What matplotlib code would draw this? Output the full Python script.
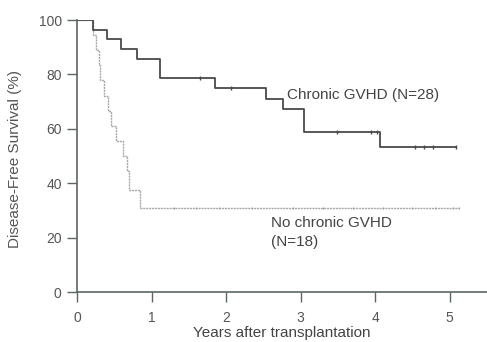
import matplotlib
matplotlib.use("Agg")
import matplotlib.pyplot as plt

# Chronic GVHD (N=28) step curve
cg_times = [0.0, 0.215, 0.40, 0.59, 0.81, 1.12, 1.85, 2.54, 2.77, 3.05, 4.07, 5.08]
cg_surv = [100, 96.4, 92.9, 89.3, 85.7, 78.6, 75.0, 71.0, 67.3, 59.0, 53.2, 53.2]
cg_cens_t = [1.65, 2.06, 3.49, 3.94, 4.03, 4.54, 4.65, 4.77, 5.08]
cg_cens_s = [78.6, 75.0, 59.0, 59.0, 59.0, 53.2, 53.2, 53.2, 53.2]

# No chronic GVHD (N=18) step curve
nc_times = [0.0, 0.22, 0.25, 0.29, 0.31, 0.36, 0.41, 0.46, 0.52, 0.62, 0.67, 0.70, 0.85, 5.12]
nc_surv = [100, 94.4, 88.9, 83.3, 77.8, 72.2, 66.7, 61.1, 55.6, 50.0, 44.4, 37.5, 31.0, 31.0]
nc_cens_t = [1.3, 1.6, 1.9, 2.35, 2.9, 3.3, 3.7, 4.1, 4.5, 4.8, 5.05, 5.12]
nc_cens_s = [31.0] * 12

x_ticks = [0, 1, 2, 3, 4, 5]
y_ticks = [0, 20, 40, 60, 80, 100]

plt.rcParams['font.family'] = ['Liberation Sans', 'DejaVu Sans']

fig = plt.figure(figsize=(4.87, 3.42), dpi=100)
ax = fig.add_axes([77/487, 50/342, 1 - 77/487, 272/342])

ax.step(nc_times, nc_surv, where='post', color='#a8a8a8', lw=1.0, linestyle=(0, (1.5, 0.6)))
ax.plot(nc_cens_t, nc_cens_s, linestyle='none', marker='|', ms=2, color='#999999', mew=0.7)
ax.step(cg_times, cg_surv, where='post', color='#4a4a4a', lw=1.3)
ax.plot(cg_cens_t, cg_cens_s, linestyle='none', marker='|', ms=2.5, color='#4a4a4a', mew=1.0)

ax.set_xlim(0, 5.5)
ax.set_ylim(0, 100)
ax.set_xticks(x_ticks)
ax.set_yticks(y_ticks)
for s in ['top', 'right']:
    ax.spines[s].set_visible(False)
for s in ['left', 'bottom']:
    ax.spines[s].set_color('#5c6660')
    ax.spines[s].set_linewidth(1.2)
ax.tick_params(axis='both', colors='#5c6660', labelcolor='#555555', labelsize=10, length=7, width=1.0)
ax.tick_params(axis='x', pad=7)
ax.tick_params(axis='y', pad=4)

ax.set_xlabel('Years after transplantation', color='#444444', fontsize=11)
ax.set_ylabel('Disease-Free Survival (%)', color='#555555', fontsize=11)
ax.xaxis.set_label_coords(0.5, -0.125)
ax.yaxis.set_label_coords(-0.135, 0.49)

ax.text(2.82, 72.4, 'Chronic GVHD (N=28)', fontsize=11, color='#444444', va='center', ha='left')
ax.text(2.60, 25.5, 'No chronic GVHD', fontsize=11, color='#444444', va='center', ha='left')
ax.text(2.60, 18.4, '(N=18)', fontsize=11, color='#444444', va='center', ha='left')

fig.savefig('out.png', dpi=100)
